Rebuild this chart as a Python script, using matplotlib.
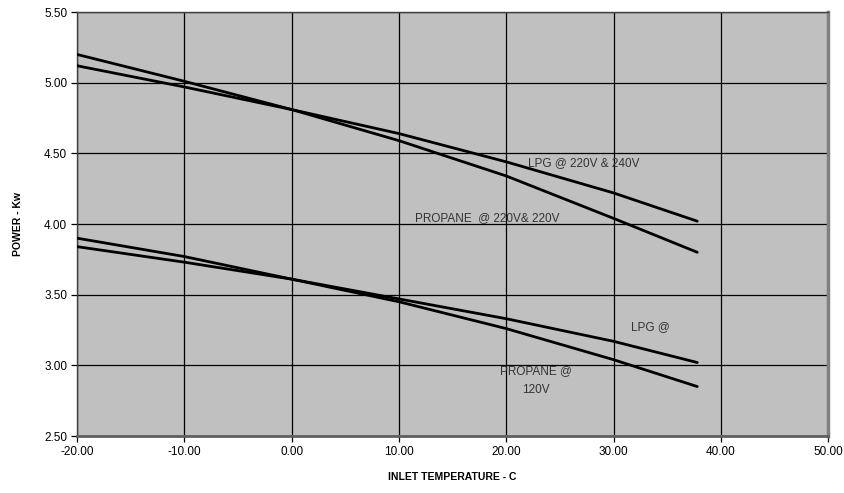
import matplotlib
matplotlib.use("Agg")
import matplotlib.pyplot as plt

plt.rcParams['font.family'] = ['Liberation Sans', 'DejaVu Sans']

temps = [-20, -10, 0, 10, 20, 30, 37.8]
lpg_high = [5.12, 4.97, 4.81, 4.64, 4.44, 4.22, 4.02]
propane_high = [5.20, 5.01, 4.81, 4.59, 4.34, 4.04, 3.80]
lpg_low = [3.84, 3.73, 3.61, 3.47, 3.33, 3.17, 3.02]
propane_low = [3.90, 3.77, 3.61, 3.45, 3.26, 3.04, 2.85]

x_ticks = [-20, -10, 0, 10, 20, 30, 40, 50]
y_ticks = [2.5, 3.0, 3.5, 4.0, 4.5, 5.0, 5.5]

fig = plt.figure(figsize=(8.45, 4.93), dpi=100)
ax = fig.add_axes([0.0911, 0.1156, 0.889, 0.86])
ax.set_facecolor('#C0C0C0')

for series in (lpg_high, propane_high, lpg_low, propane_low):
    ax.plot(temps, series, color='black', lw=2.0, solid_capstyle='round', zorder=3)

ax.set_xlim(-20, 50)
ax.set_ylim(2.5, 5.5)
ax.set_xticks(x_ticks)
ax.set_yticks(y_ticks)
ax.set_xticklabels([f"{v:.2f}" for v in x_ticks], fontsize=8.5)
ax.set_yticklabels([f"{v:.2f}" for v in y_ticks], fontsize=8.5)
ax.grid(True, color='black', lw=0.9, zorder=1)
ax.set_axisbelow(True)
ax.tick_params(direction='out', length=4, width=0.9, pad=3)

for s in ('top', 'left'):
    ax.spines[s].set_color('#404040')
    ax.spines[s].set_linewidth(1.0)
ax.spines['right'].set_color('#808080')
ax.spines['right'].set_linewidth(2.5)
ax.spines['bottom'].set_color('#606060')
ax.spines['bottom'].set_linewidth(2.0)

ax.set_xlabel('INLET TEMPERATURE - C', fontsize=7.5, fontweight='bold', labelpad=10)
ax.set_ylabel('POWER - Kw', fontsize=7.5, fontweight='bold', labelpad=15)

tc = '#333333'
ax.text(22.0, 4.43, 'LPG @ 220V & 240V', fontsize=8.5, color=tc, va='center', ha='left', zorder=4)
ax.text(11.5, 4.04, 'PROPANE  @ 220V& 220V', fontsize=8.5, color=tc, va='center', ha='left', zorder=4)
ax.text(31.6, 3.27, 'LPG @', fontsize=8.5, color=tc, va='center', ha='left', zorder=4)
ax.text(22.8, 2.89, 'PROPANE @\n120V', fontsize=8.5, color=tc, va='center', ha='center',
        linespacing=1.75, zorder=4)

fig.savefig('out.png', dpi=100)
